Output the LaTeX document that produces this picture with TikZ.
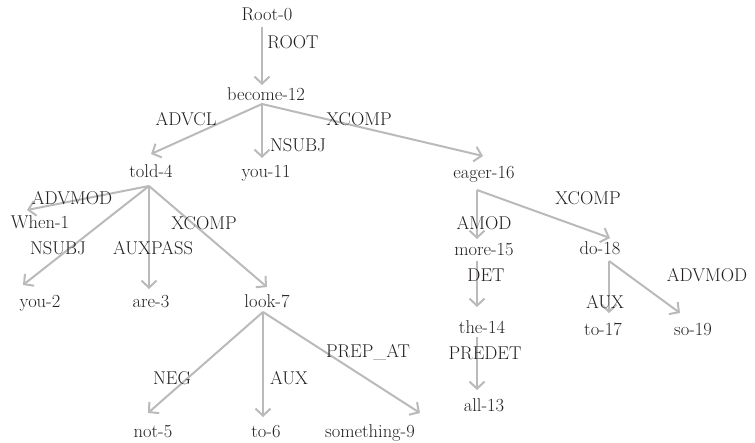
\documentclass[tikz,border=0pt]{standalone}
\usetikzlibrary{arrows.meta}
\definecolor{txt}{RGB}{35,31,32}
\definecolor{edge}{RGB}{186,186,186}
\tikzset{
  word/.style={inner sep=0pt, text height=16pt, text depth=4pt, anchor=center, text=txt, font=\fontsize{18.5}{20}\selectfont},
  lab/.style={inner sep=0pt, anchor=center, text=txt, font=\fontsize{18.5}{20}\selectfont},
  dep/.style={draw=edge, line width=2pt, -{Straight Barb[length=7pt,width=15pt]}}
}
\begin{document}
\begin{tikzpicture}[x=1pt,y=-1pt]
\useasboundingbox (0,0) rectangle (755,443);
% words
\node[word] (root) at (267,15) {Root-0};
\node[word] (become) at (266,95) {become-12};
\node[word] (told) at (151,172) {told-4};
\node[word] (you11) at (266,172) {you-11};
\node[word] (eager) at (484,173) {eager-16};
\node[word] (when) at (40,223) {When-1};
\node[word] (you2) at (40,302) {you-2};
\node[word] (are) at (151,302) {are-3};
\node[word] (look) at (267,302) {look-7};
\node[word] (more) at (484,250) {more-15};
\node[word] (do) at (600,249) {do-18};
\node[word] (the) at (482,328) {the-14};
\node[word] (to17) at (603,330) {to-17};
\node[word] (so) at (693,330) {so-19};
\node[word] (all) at (484,405) {all-13};
\node[word] (not) at (153,432) {not-5};
\node[word] (to6) at (266,432) {to-6};
\node[word] (something) at (370,432) {something-9};
% edges
\draw[dep] ([shift={(-5,12)}]root.center) -- ([shift={(-4,-10)}]become.center);
\draw[dep] ([shift={(-4,9)}]become.center) -- ([shift={(0,-18)}]told.center);
\draw[dep] ([shift={(-4,9)}]become.center) -- ([shift={(-4,-14)}]you11.center);
\draw[dep] ([shift={(-4,9)}]become.center) -- ([shift={(-1,-17)}]eager.center);
\draw[dep] ([shift={(-2,14)}]told.center) -- ([shift={(-13,-13)}]when.center);
\draw[dep] ([shift={(-2,14)}]told.center) -- ([shift={(-17,-17)}]you2.center);
\draw[dep] ([shift={(-2,14)}]told.center) -- ([shift={(-2,-13)}]are.center);
\draw[dep] ([shift={(-2,14)}]told.center) -- ([shift={(0,-15)}]look.center);
\draw[dep] ([shift={(-7,17)}]eager.center) -- ([shift={(-7,-11)}]more.center);
\draw[dep] ([shift={(-7,17)}]eager.center) -- ([shift={(10,-11)}]do.center);
\draw[dep] ([shift={(-7,11)}]more.center) -- ([shift={(-5,-21)}]the.center);
\draw[dep] ([shift={(9,12)}]do.center) -- ([shift={(6,-17)}]to17.center);
\draw[dep] ([shift={(9,12)}]do.center) -- ([shift={(-13,-17)}]so.center);
\draw[dep] ([shift={(-5,9)}]the.center) -- ([shift={(-7,-15)}]all.center);
\draw[dep] ([shift={(-4,10)}]look.center) -- ([shift={(-5,-19)}]not.center);
\draw[dep] ([shift={(-4,10)}]look.center) -- ([shift={(-3,-15)}]to6.center);
\draw[dep] ([shift={(-4,10)}]look.center) -- ([shift={(50,-19)}]something.center);
% labels
\node[lab] (lroot) at (293,42) {ROOT};
\node[lab] (ladvcl) at (186,119) {ADVCL};
\node[lab] (lxcomp1) at (359,119) {XCOMP};
\node[lab] (lnsubj1) at (298,145) {NSUBJ};
\node[lab] (ladvmod1) at (72,198) {ADVMOD};
\node[lab] (lxcomp2) at (204,223) {XCOMP};
\node[lab] (lnsubj2) at (58,248) {NSUBJ};
\node[lab] (lauxpass) at (153,248) {AUXPASS};
\node[lab] (lamod) at (484,223) {AMOD};
\node[lab] (lxcomp3) at (588,198) {XCOMP};
\node[lab] (ldet) at (486,275) {DET};
\node[lab] (ladvmod2) at (707,275) {ADVMOD};
\node[lab] (laux1) at (605,302) {AUX};
\node[lab] (lpredet) at (485,353) {PREDET};
\node[lab] (lprepat) at (368,352) {PREP\_AT};
\node[lab] (lneg) at (172,378) {NEG};
\node[lab] (laux2) at (289,378) {AUX};
\end{tikzpicture}
\end{document}
